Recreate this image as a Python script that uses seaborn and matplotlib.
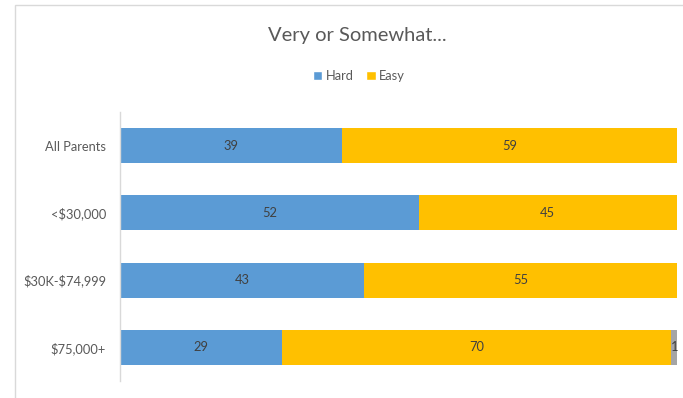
import matplotlib
matplotlib.use("Agg")
import matplotlib.pyplot as plt
from matplotlib.patches import Rectangle, Patch
import seaborn as sns
import pandas as pd
import numpy as np

groups = ["All Parents", "<$30,000", "$30K-$74,999", "$75,000+"]
hard = [39, 52, 43, 29]
easy = [59, 45, 55, 70]
other = [0, 0, 0, 1]

c_hard = "#5B9BD5"
c_easy = "#FFC000"
c_other = "#A5A5A5"

sns.set_theme(style="white")
plt.rcParams["font.family"] = ["Lato", "DejaVu Sans"]
plt.rcParams["text.parse_math"] = False

df = pd.DataFrame({"group": groups, "hard": hard, "easy": easy, "other": other})
total = df[["hard", "easy", "other"]].sum(axis=1)
# 100% stacked shares
df["s_hard"] = df["hard"] / total * 100
df["s_easy"] = df["easy"] / total * 100
df["s_other"] = df["other"] / total * 100
df["cum_hard"] = df["s_hard"]
df["cum_easy"] = df["s_hard"] + df["s_easy"]
df["cum_other"] = df["cum_easy"] + df["s_other"]

fig = plt.figure(figsize=(6.83, 3.98), dpi=100)
# chart frame
fig.patches.append(Rectangle((15 / 683, -0.1), 1.2, 1 - 5 / 398 + 0.1,
                             transform=fig.transFigure, fill=False,
                             edgecolor="#D9D9D9", linewidth=1.0))
ax = fig.add_axes([120 / 683, 1 - 381 / 398, (677 - 120) / 683, (381 - 112) / 398])

for col, color in [("cum_other", c_other), ("cum_easy", c_easy), ("cum_hard", c_hard)]:
    sns.barplot(data=df, x=col, y="group", order=groups, color=color,
                width=0.52, saturation=1, ax=ax, orient="h",
                edgecolor="none", linewidth=0)

ax.set_xlim(0, 100)
ax.set_ylim(3.5, -0.5)
ax.set_xlabel("")
ax.set_ylabel("")
ax.set_xticks([])
for s in ["top", "right", "bottom"]:
    ax.spines[s].set_visible(False)
ax.spines["left"].set_color("#D9D9D9")
ax.spines["left"].set_linewidth(1.0)
ax.tick_params(axis="y", length=0, pad=10, labelsize=9.3, labelcolor="#595959")

for i, row in df.iterrows():
    segs = [(0, row["s_hard"], row["hard"]),
            (row["cum_hard"], row["s_easy"], row["easy"]),
            (row["cum_easy"], row["s_other"], row["other"])]
    for left, width, val in segs:
        if val > 0:
            ax.text(left + width / 2, i, f"{val:g}", ha="center", va="center",
                    fontsize=9.3, color="#404040")

fig.text(357 / 683, 1 - 35 / 398, "Very or Somewhat...", ha="center", va="center",
         fontsize=14.5, color="#595959")
handles = [Patch(facecolor=c_hard, label="Hard"), Patch(facecolor=c_easy, label="Easy")]
fig.legend(handles=handles, loc="center", bbox_to_anchor=(359 / 683, 1 - 76 / 398),
           ncol=2, frameon=False, fontsize=9.3, labelcolor="#595959",
           handlelength=0.7, handleheight=0.7, handletextpad=0.3, columnspacing=1.0)

fig.savefig("out.png", dpi=100)
